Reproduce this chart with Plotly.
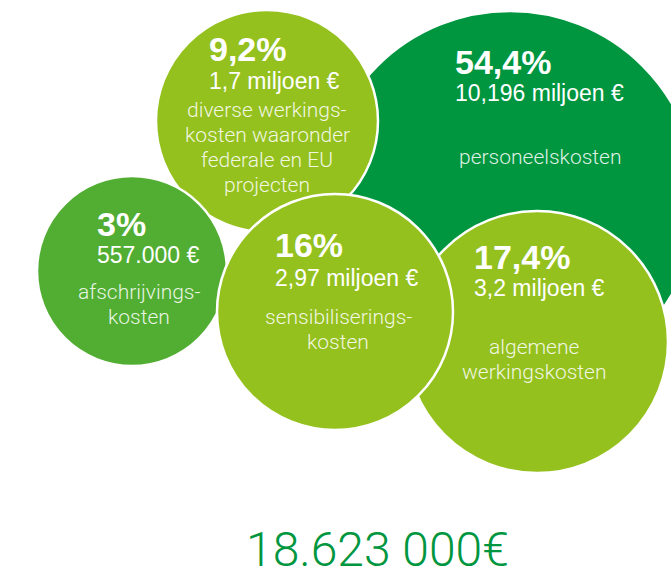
import plotly.graph_objects as go

# Cost breakdown (share of total, amount, description)
categories = ["personeelskosten", "diverse werkingskosten", "afschrijvingskosten",
              "algemene werkingskosten", "sensibiliseringskosten"]
percent_labels = ["54,4%", "9,2%", "3%", "17,4%", "16%"]
amount_labels = ["10,196 miljoen €", "1,7 miljoen €", "557.000 €", "3,2 miljoen €", "2,97 miljoen €"]
desc_lines = [
    ["personeelskosten"],
    ["diverse werkings-", "kosten waaronder", "federale en EU", "projecten"],
    ["afschrijvings-", "kosten"],
    ["algemene", "werkingskosten"],
    ["sensibiliserings-", "kosten"],
]
total_label = "18.623 000€"

# Layout of the bubbles (pixel-like coordinates, drawing order = stacking order)
bubble_x = [510, 267, 132, 537, 335]
bubble_y = [199, 121, 271, 342, 312]
bubble_r = [188, 111, 95, 131, 118]
bubble_colors = ["#009640", "#95C11F", "#52AE32", "#95C11F", "#95C11F"]

# Text placement inside each bubble
head_x = [453, 207, 95, 472, 273]
pct_y = [62, 49, 224, 257, 245]
amt_y = [93, 81, 255, 288, 278]
desc_x = [540, 267, 139, 534, 338]
desc_mid_y = [157, 147.5, 304.5, 359, 329.5]   # vertical centre of each description block
line_gap = 25

W, H = 671, 577

fig = go.Figure()
fig.add_trace(go.Scatter(
    x=bubble_x,
    y=bubble_y,
    mode="markers",
    marker=dict(
        size=[2 * r for r in bubble_r],
        sizemode="diameter",
        color=bubble_colors,
        opacity=1,
        line=dict(color="white", width=2.5),
    ),
    text=categories,
    hoverinfo="text",
    cliponaxis=True,
))

ann = []
for i in range(len(categories)):
    ann.append(dict(x=head_x[i], y=pct_y[i], text="<b>" + percent_labels[i] + "</b>",
                    xanchor="left", yanchor="middle", showarrow=False,
                    font=dict(family="Liberation Sans, Arial", size=34, color="white")))
    ann.append(dict(x=head_x[i], y=amt_y[i], text=amount_labels[i],
                    xanchor="left", yanchor="middle", showarrow=False,
                    font=dict(family="Liberation Sans, Arial", size=23, color="white")))
    n = len(desc_lines[i])
    first = desc_mid_y[i] - (n - 1) * line_gap / 2
    for j, line in enumerate(desc_lines[i]):
        ann.append(dict(x=desc_x[i], y=first + j * line_gap, text=line,
                        xanchor="center", yanchor="middle", showarrow=False,
                        font=dict(family="Roboto", size=21, color="rgba(255,255,255,0.88)",
                                  weight=300)))

ann.append(dict(x=377, y=549, text=total_label, xanchor="center", yanchor="middle",
                showarrow=False,
                font=dict(family="Roboto", size=48, color="#009640", weight=300)))

fig.update_layout(
    width=W, height=H,
    margin=dict(l=0, r=0, t=0, b=0),
    paper_bgcolor="white", plot_bgcolor="white",
    showlegend=False,
    xaxis=dict(range=[0, W], visible=False, fixedrange=True),
    yaxis=dict(range=[H, 0], visible=False, fixedrange=True),
    annotations=ann,
)

# remove the default page margin so the figure fills the window
fig.write_html("out.html", config={"displayModeBar": False},
               post_script="document.body.style.margin='0px';"
                           "document.body.style.overflow='hidden';")
